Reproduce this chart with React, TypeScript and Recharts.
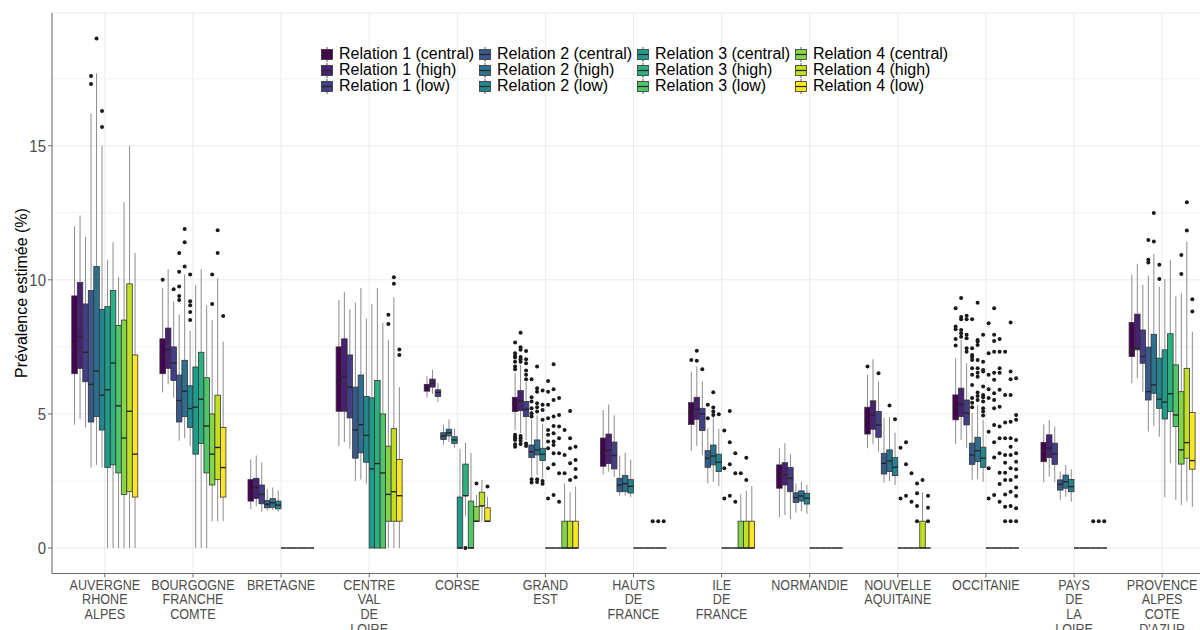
import React from "react";
import { BarChart, Bar, XAxis, YAxis, CartesianGrid } from "recharts";

type Stat = [number, number, number, number, number]; // min, q1, median, q3, max

const REGIONS = [
  "AUVERGNE\nRHONE\nALPES",
  "BOURGOGNE\nFRANCHE\nCOMTE",
  "BRETAGNE",
  "CENTRE\nVAL\nDE\nLOIRE",
  "CORSE",
  "GRAND\nEST",
  "HAUTS\nDE\nFRANCE",
  "ILE\nDE\nFRANCE",
  "NORMANDIE",
  "NOUVELLE\nAQUITAINE",
  "OCCITANIE",
  "PAYS\nDE\nLA\nLOIRE",
  "PROVENCE\nALPES\nCOTE\nD'AZUR",
];

const SERIES_NAMES = [
  "Relation 1 (central)", "Relation 1 (high)", "Relation 1 (low)",
  "Relation 2 (central)", "Relation 2 (high)", "Relation 2 (low)",
  "Relation 3 (central)", "Relation 3 (high)", "Relation 3 (low)",
  "Relation 4 (central)", "Relation 4 (high)", "Relation 4 (low)",
];

const COLORS = [
  "#440154", "#482173", "#433E85", "#38598C", "#2D708E", "#25858E",
  "#1E9B8A", "#2BB07F", "#51C56A", "#85D54A", "#C2DF23", "#FDE725",
];

const Y_TICKS = [0, 5, 10, 15];
const Y_MINOR = [2.5, 7.5, 12.5, 17.5];
const Y_MIN = -0.95;
const Y_MAX = 19.95;

const Z: Stat = [0, 0, 0, 0, 0];

// boxplot stats per series, one entry per region
const r1Central: Stat[] = [
  [4.6, 6.5, 7.6, 9.4, 12.0], [5.8, 6.5, 7.15, 7.8, 9.7], [1.45, 1.75, 2.15, 2.55, 3.3],
  [3.8, 5.1, 6.15, 7.5, 9.25], [5.6, 5.85, 6.0, 6.1, 6.4], [4.4, 5.09, 5.37, 5.62, 6.52],
  [2.75, 3.05, 3.55, 4.1, 5.15], [3.62, 4.61, 5.03, 5.42, 6.58], [1.15, 2.23, 2.7, 3.1, 3.72],
  [3.72, 4.25, 4.75, 5.25, 6.46], [3.88, 4.78, 5.24, 5.71, 7.08], [2.45, 3.22, 3.62, 3.94, 4.61],
  [6.14, 7.14, 7.32, 8.41, 10.19],
];
const r1High: Stat[] = [
  [4.8, 6.7, 7.9, 9.9, 12.4], [6.1, 6.7, 7.4, 8.2, 10.4], [1.55, 1.85, 2.25, 2.6, 3.45],
  [3.95, 5.1, 6.4, 7.8, 9.55], [5.75, 6.0, 6.15, 6.3, 6.65], [4.28, 5.12, 5.49, 5.87, 6.83],
  [2.85, 3.15, 3.65, 4.25, 5.35], [3.81, 4.8, 5.17, 5.62, 6.77], [1.23, 2.35, 2.72, 3.18, 3.91],
  [3.87, 4.43, 4.96, 5.49, 7.04], [4.03, 4.9, 5.36, 5.96, 7.76], [2.66, 3.37, 3.72, 4.22, 4.78],
  [6.33, 7.39, 7.45, 8.72, 10.6],
];
const r1Low: Stat[] = [
  [4.5, 6.2, 7.3, 9.1, 11.6], [5.6, 6.25, 6.9, 7.5, 9.2], [1.35, 1.65, 2.0, 2.35, 3.2],
  [3.7, 4.85, 6.0, 7.2, 8.9], [5.45, 5.65, 5.8, 5.9, 6.15], [4.03, 4.9, 5.17, 5.46, 6.2],
  [2.65, 2.95, 3.45, 3.95, 4.95], [3.47, 4.38, 5.0, 5.21, 6.21], [1.08, 2.1, 2.6, 3.0, 3.5],
  [3.59, 4.13, 4.59, 5.09, 6.21], [3.72, 4.59, 5.03, 5.52, 6.89], [2.47, 3.12, 3.51, 3.91, 4.53],
  [5.83, 6.89, 7.14, 8.13, 9.81],
];
const r2Central: Stat[] = [
  [3.0, 4.7, 6.1, 9.6, 16.2], [4.0, 4.7, 5.5, 6.45, 8.7], [1.4, 1.5, 1.63, 1.77, 2.2],
  [2.5, 3.35, 4.4, 6.0, 9.15], [3.85, 4.05, 4.18, 4.3, 4.6], [2.66, 3.37, 3.59, 3.84, 4.78],
  [1.95, 2.1, 2.35, 2.6, 3.45], [2.41, 3.01, 3.35, 3.63, 4.47], [1.32, 1.7, 1.88, 2.06, 2.41],
  [2.44, 2.76, 3.16, 3.53, 4.86], [2.54, 3.12, 3.47, 3.91, 5.03], [1.79, 2.16, 2.37, 2.54, 2.85],
  [4.34, 5.52, 5.83, 7.49, 10.15],
];
const r2High: Stat[] = [
  [3.1, 4.9, 6.6, 10.5, 17.7], [4.1, 4.9, 5.85, 7.0, 10.2], [1.42, 1.52, 1.69, 1.84, 2.26],
  [2.55, 3.55, 4.6, 6.45, 9.7], [3.95, 4.18, 4.3, 4.43, 4.8], [2.72, 3.47, 3.66, 4.03, 4.94],
  [1.95, 2.1, 2.4, 2.7, 3.55], [2.47, 3.1, 3.43, 3.84, 4.9], [1.38, 1.75, 1.94, 2.13, 2.47],
  [2.5, 2.85, 3.25, 3.66, 4.88], [2.57, 3.22, 3.63, 4.13, 5.34], [1.91, 2.23, 2.47, 2.72, 3.1],
  [4.55, 5.77, 6.08, 7.97, 10.97],
];
const r2Low: Stat[] = [
  [3.0, 4.4, 5.7, 8.9, 15.0], [3.8, 4.5, 5.2, 6.05, 8.1], [1.36, 1.46, 1.6, 1.75, 2.14],
  [2.4, 3.2, 4.2, 5.65, 8.55], [3.75, 3.9, 4.03, 4.15, 4.45], [2.6, 3.26, 3.5, 3.72, 4.63],
  [1.9, 2.05, 2.3, 2.55, 3.3], [2.31, 2.85, 3.2, 3.5, 4.44], [1.27, 1.64, 1.86, 2.04, 2.35],
  [2.35, 2.7, 3.01, 3.37, 4.3], [2.47, 3.01, 3.35, 3.76, 4.78], [1.73, 2.1, 2.29, 2.56, 2.94],
  [4.15, 5.21, 5.55, 7.08, 9.75],
];
const r3Central: Stat[] = [
  [0, 3.0, 5.9, 9.0, 10.75], [0, 3.5, 5.25, 6.75, 9.8], Z,
  [0, 0, 2.95, 5.6, 9.1], [0, 0, 0, 1.9, 3.7], Z,
  Z, Z, Z,
  Z, Z, Z,
  [1.89, 4.81, 5.44, 7.39, 10.03],
];
const r3High: Stat[] = [
  [0, 3.1, 6.9, 9.6, 11.4], [0, 3.9, 5.55, 7.3, 10.4], Z,
  [0, 0, 3.15, 6.25, 9.7], [1.2, 1.95, 1.95, 3.13, 3.93], Z,
  Z, Z, Z,
  Z, Z, Z,
  [3.16, 5.09, 5.75, 7.99, 10.75],
];
const r3Low: Stat[] = [
  [0, 2.8, 5.3, 8.3, 10.1], [0, 2.8, 4.55, 6.35, 9.05], Z,
  [0, 0, 2.8, 5.0, 8.4], [0, 0, 0, 1.75, 3.55], Z,
  Z, Z, Z,
  Z, Z, Z,
  [1.79, 4.53, 4.96, 6.83, 9.38],
];
const r4Central: Stat[] = [
  [0, 2.0, 4.1, 8.5, 12.9], [1.0, 2.35, 3.5, 5.0, 8.5], Z,
  [0, 1.0, 2.0, 3.8, 7.75], [1.0, 1.0, 1.0, 1.54, 1.98], [0, 0, 0, 1.0, 2.41],
  Z, [0, 0, 0, 1.0, 2.01], Z,
  Z, Z, Z,
  [1.6, 3.13, 3.66, 5.83, 9.5],
];
const r4High: Stat[] = [
  [0, 2.1, 5.1, 9.85, 15.0], [1.0, 2.55, 3.75, 5.7, 10.05], Z,
  [0, 1.0, 2.1, 4.45, 9.35], [1.0, 1.57, 1.57, 2.08, 2.54], [0, 0, 0, 1.0, 2.08],
  Z, [0, 0, 0, 1.0, 2.13], Z,
  [0, 0, 0, 1.0, 2.08], Z, Z,
  [1.73, 3.35, 3.93, 6.7, 11.43],
];
const r4Low: Stat[] = [
  [0, 1.9, 3.5, 7.2, 11.0], [1.0, 1.9, 3.0, 4.5, 7.7], Z,
  [0, 1.0, 1.95, 3.3, 6.0], [1.0, 1.0, 1.0, 1.5, 1.91], [0, 0, 0, 1.0, 2.29],
  Z, [0, 0, 0, 1.0, 2.31], Z,
  Z, Z, Z,
  [1.54, 2.94, 3.26, 5.05, 8.07],
];

// outliers per series, one list per region
const r1CentralOut: number[][] = [
  [], [10.0], [], [], [], [7.66, 7.26, 7.16, 7.1, 6.95, 6.77, 6.67, 4.22, 4.15, 4.09, 4.03, 3.87, 3.78],
  [], [7.01], [], [6.77], [8.94, 8.26, 8.16, 7.79, 7.55], [], [],
];
const r1HighOut: number[][] = [
  [], [], [], [], [], [8.03, 7.49, 7.39, 7.12, 7.04, 6.95, 4.18, 4.09, 4.0, 3.88],
  [], [7.36, 6.98], [], [], [9.32, 8.61, 8.53, 8.13, 8.01, 7.88], [], [],
];
const r1LowOut: number[][] = [
  [], [9.65], [], [], [], [7.35, 7.04, 6.89, 6.62, 6.46, 6.29, 3.9, 3.8],
  [], [6.67], [], [6.52], [8.66, 8.53, 7.95, 7.82, 7.45, 7.32], [], [],
];
const r2CentralOut: number[][] = [
  [17.3, 17.6], [9.25, 9.4, 9.75, 10.3, 11.0], [], [], [], [6.29, 5.62, 5.46, 5.21, 5.03, 4.9, 2.56, 2.44],
  [], [5.34, 4.84], [], [], [8.53, 7.45, 7.2, 7.12, 7.01, 6.7, 6.46, 6.08, 5.59, 5.42, 5.25], [], [11.49, 10.75, 10.65],
];
const r2HighOut: number[][] = [
  [19.0], [10.5, 11.4, 11.9], [], [], [], [6.77, 5.96, 5.83, 5.4, 5.25, 5.09, 2.56, 2.46],
  [], [5.81, 5.24, 5.09, 4.96], [], [5.31], [9.15, 7.76, 7.7, 7.57, 7.01, 6.7, 6.54, 6.39, 5.8, 5.67, 5.52], [], [12.49, 11.43],
];
const r2LowOut: number[][] = [
  [15.7, 16.3], [8.5, 8.8, 9.05, 9.2, 10.2], [], [], [], [5.87, 5.34, 5.15, 4.78, 2.5, 2.4],
  [], [4.99], [], [4.8], [7.95, 6.95, 6.64, 6.58, 6.02, 5.71, 5.62, 5.46, 5.21, 5.09, 4.94], [], [10.56, 10.03],
];
const r3CentralOut: number[][] = [
  [], [], [], [], [], [6.23, 5.83, 5.34, 4.84, 4.4, 4.22, 3.97, 3.72, 2.97, 1.85],
  [], [4.38, 2.97, 1.85], [], [3.74, 1.85], [8.38, 7.26, 6.46, 5.92, 5.59, 4.34, 2.97, 1.85], [], [],
];
const r3HighOut: number[][] = [
  [], [], [], [], [0], [6.85, 5.92, 5.52, 4.9, 4.55, 4.28, 3.97, 3.84, 3.53, 3.12, 1.98],
  [], [5.11, 3.94, 3.12, 1.95], [], [3.94, 3.12, 1.95], [8.94, 7.95, 7.72, 7.32, 6.54, 6.27, 5.77, 5.52, 5.21, 4.59, 3.94, 3.38, 1.98], [], [],
];
const r3LowOut: number[][] = [
  [], [], [], [], [], [5.59, 4.96, 4.53, 4.09, 3.53, 2.79, 1.73],
  [], [3.53, 2.79, 1.73], [], [2.79, 1.73], [7.79, 7.32, 6.7, 6.54, 5.9, 5.27, 4.53, 4.09, 3.53, 2.81, 2.39, 1.73], [], [],
];
const r4CentralOut: number[][] = [
  [], [9.1, 10.2], [], [8.35, 8.7], [2.41], [4.4, 3.47, 2.79],
  [1.0], [2.79], [], [2.41, 2.04, 1.57, 1.0], [7.32, 5.71, 4.68, 4.09, 3.47, 3.18, 2.81, 2.54, 2.0, 1.54, 1.0], [1.0], [10.93, 10.22],
];
const r4HighOut: number[][] = [
  [], [11.0, 11.85], [], [9.85, 10.1], [], [5.11, 4.09, 3.72, 3.16, 2.54],
  [1.0], [3.37, 2.54], [], [2.54], [8.41, 6.58, 6.29, 5.71, 4.71, 4.09, 3.78, 3.47, 2.97, 2.54, 2.1, 1.57, 1.0], [1.0], [12.89, 11.84],
];
const r4LowOut: number[][] = [
  [], [8.65], [], [7.2, 7.4], [2.29], [3.78, 3.28, 2.95, 2.64],
  [1.0], [], [], [1.95, 1.5, 1.0], [6.33, 4.96, 4.78, 4.03, 3.53, 3.22, 2.94, 2.66, 2.26, 1.94, 1.48, 1.0], [1.0], [9.28, 8.82],
];

const STATS = [r1Central, r1High, r1Low, r2Central, r2High, r2Low, r3Central, r3High, r3Low, r4Central, r4High, r4Low];
const OUTLIERS = [
  r1CentralOut, r1HighOut, r1LowOut, r2CentralOut, r2HighOut, r2LowOut,
  r3CentralOut, r3HighOut, r3LowOut, r4CentralOut, r4HighOut, r4LowOut,
];

const data = REGIONS.map((region, j) => {
  const row: Record<string, any> = { region };
  STATS.forEach((s, i) => {
    row[`s${i}`] = [s[j][0], s[j][4]];
  });
  return row;
});

const FONT = "'Liberation Sans', Arial, sans-serif";
const BAR_GAP = 0.5;

const makeBoxShape = (si: number) => (props: any) => {
  const { x, width, index, background } = props;
  const [mn, q1, md, q3, mx] = STATS[si][index];
  const outs = OUTLIERS[si][index] || [];
  // same linear mapping as the y axis, over the plot background
  const py = (v: number) => background.y + (background.height * (Y_MAX - v)) / (Y_MAX - Y_MIN);
  const w = width + BAR_GAP;
  const cx = x + w / 2;
  return (
    <g>
      <line x1={cx} x2={cx} y1={py(mx)} y2={py(q3)} stroke="#8c8c8c" strokeWidth={1} />
      <line x1={cx} x2={cx} y1={py(q1)} y2={py(mn)} stroke="#8c8c8c" strokeWidth={1} />
      <rect x={x} y={py(q3)} width={w} height={py(q1) - py(q3)} fill={COLORS[si]} stroke="#333333" strokeWidth={0.8} />
      <line x1={x} x2={x + w} y1={py(md)} y2={py(md)} stroke="#262626" strokeWidth={1.4} />
      {outs.map((o, k) => (
        <circle key={k} cx={cx} cy={py(o)} r={2} fill="#1a1a1a" />
      ))}
    </g>
  );
};

const XTick = ({ x, y, payload }: any) => {
  const lines = String(payload.value).split("\n");
  return (
    <g transform={`translate(${x},${y})`}>
      <text textAnchor="middle" fontFamily={FONT} fontSize={15} fill="#4d4d4d" transform="scale(0.84,1)">
        {lines.map((l, i) => (
          <tspan key={i} x={0} y={10 + i * 15}>
            {l}
          </tspan>
        ))}
      </text>
    </g>
  );
};

const YTick = ({ x, y, payload }: any) => (
  <g transform={`translate(${x},${y})`}>
    <text textAnchor="end" dy={6} fontFamily={FONT} fontSize={17} fill="#4d4d4d" transform="scale(0.88,1)">
      {payload.value}
    </text>
  </g>
);

const LegendKey = ({ color }: { color: string }) => (
  <svg width={12} height={15} style={{ display: "block" }}>
    <line x1={6} x2={6} y1={0} y2={15} stroke="#555" strokeWidth={1} />
    <rect x={0.5} y={2.5} width={11} height={10} fill={color} stroke="#333" strokeWidth={0.8} />
    <line x1={0.5} x2={11.5} y1={7.5} y2={7.5} stroke="#262626" strokeWidth={1.2} />
  </svg>
);

const BoxLegend = () => (
  <div style={{ position: "absolute", left: 321, top: 46, width: 640, height: 48, fontFamily: FONT }}>
    {SERIES_NAMES.map((name, i) => (
      <div
        key={name}
        style={{
          position: "absolute",
          left: Math.floor(i / 3) * 158,
          top: (i % 3) * 16,
          height: 16,
          display: "flex",
          alignItems: "center",
          whiteSpace: "nowrap",
        }}
      >
        <LegendKey color={COLORS[i]} />
        <span style={{ marginLeft: 6, fontSize: 16, lineHeight: "16px", color: "#000" }}>{name}</span>
      </div>
    ))}
  </div>
);

export default function App() {
  return (
    <div style={{ position: "fixed", left: 0, top: 0, width: 1200, height: 630, overflow: "hidden", background: "#fff" }}>
      <BarChart
        width={1230}
        height={660}
        data={data}
        margin={{ top: 13, right: 15, bottom: 0, left: 0 }}
        barCategoryGap={11}
        barGap={BAR_GAP}
      >
        <CartesianGrid vertical={false} horizontalValues={Y_MINOR} stroke="#f3f3f3" strokeWidth={1} />
        <CartesianGrid stroke="#ebebeb" strokeWidth={1} />
        <XAxis
          dataKey="region"
          type="category"
          interval={0}
          height={86.5}
          padding={{ left: 8.8, right: 8.8 }}
          tick={<XTick />}
          tickSize={4}
          tickMargin={2}
          axisLine={{ stroke: "#6b6b6b" }}
          tickLine={{ stroke: "#6b6b6b" }}
        />
        <XAxis xAxisId="top" orientation="top" dataKey="region" height={0} tick={false} tickLine={false} axisLine={{ stroke: "#6b6b6b" }} />
        <YAxis
          type="number"
          domain={[Y_MIN, Y_MAX]}
          ticks={Y_TICKS}
          allowDataOverflow
          width={52}
          tick={<YTick />}
          tickSize={4}
          tickMargin={2}
          axisLine={{ stroke: "#6b6b6b" }}
          tickLine={{ stroke: "#6b6b6b" }}
        />
        {SERIES_NAMES.map((name, i) => (
          <Bar key={name} name={name} dataKey={`s${i}`} fill={COLORS[i]} shape={makeBoxShape(i)} isAnimationActive={false} />
        ))}
      </BarChart>
      <BoxLegend />
      <svg style={{ position: "absolute", left: 0, top: 0 }} width={40} height={630}>
        <text
          transform="translate(21,293) rotate(-90)"
          textAnchor="middle"
          dominantBaseline="central"
          fontFamily={FONT}
          fontSize={16}
          fill="#000"
        >
          Prévalence estimée (%)
        </text>
      </svg>
    </div>
  );
}
